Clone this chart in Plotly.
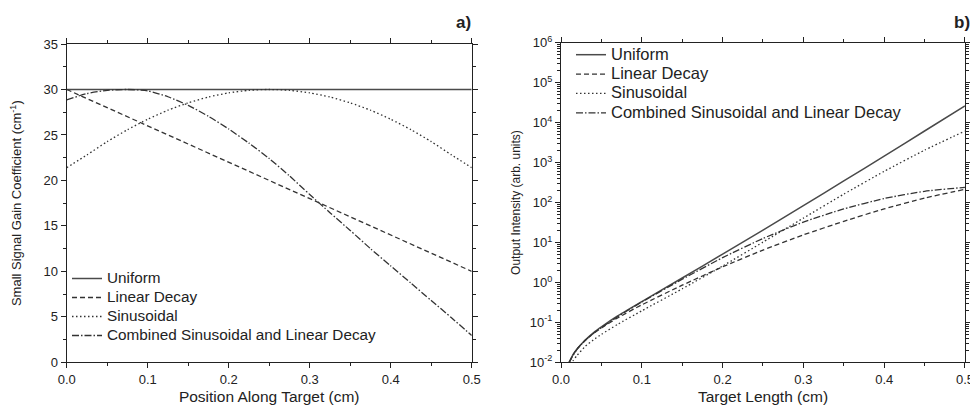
import plotly.graph_objects as go

# ---------------- data: panel a) gain profiles ----------------
pos_cm = [0.0, 0.025, 0.05, 0.075, 0.1, 0.125, 0.15, 0.175, 0.2, 0.225, 0.25,
          0.275, 0.3, 0.325, 0.35, 0.375, 0.4, 0.425, 0.45, 0.475, 0.5]
uniform_pos = [0.0, 0.5]
uniform_gain = [30.0, 30.0]
linear_pos = [0.0, 0.5]
linear_gain = [30.0, 10.0]
sinus_gain = [21.4, 22.81, 24.27, 25.58, 26.73, 27.72, 28.53, 29.17, 29.63, 29.91, 30.0,
              29.91, 29.63, 29.17, 28.53, 27.72, 26.73, 25.58, 24.27, 22.81, 21.4]
combined_gain = [28.85, 29.55, 29.9, 30.0, 29.85, 29.2, 28.25, 27.05, 25.65, 24.1, 22.4,
                 20.5, 18.45, 16.45, 14.5, 12.5, 10.6, 8.7, 6.8, 4.9, 2.95]

# ---------------- data: panel b) output intensity ----------------
length_cm = [0.01, 0.015, 0.02, 0.03, 0.04, 0.05, 0.07, 0.1, 0.15, 0.2, 0.25,
             0.3, 0.35, 0.4, 0.45, 0.5]
uniform_int = [0.0100, 0.0158, 0.0219, 0.0363, 0.0550, 0.0776, 0.145, 0.331, 1.29, 5.13,
               20.4, 83.2, 347, 1445, 6166, 26300]
linear_int = [0.0100, 0.0155, 0.0219, 0.0355, 0.0525, 0.0724, 0.129, 0.275, 0.851, 2.45,
              6.46, 15.5, 33.9, 69.2, 129, 214]
sinus_int = [0.00708, 0.0110, 0.0151, 0.0251, 0.0363, 0.0501, 0.0891, 0.195, 0.692, 2.57,
             10.2, 40.7, 162, 603, 2042, 6166]
combined_int = [0.00977, 0.0151, 0.0214, 0.0355, 0.0525, 0.0741, 0.138, 0.324, 1.20, 4.17,
                12.6, 32.4, 69.2, 126, 191, 240]

names = ["Uniform", "Linear Decay", "Sinusoidal", "Combined Sinusoidal and Linear Decay"]
log_ticks = [1e-2, 1e-1, 1e0, 1e1, 1e2, 1e3, 1e4, 1e5, 1e6]
log_ticktext = ["10<sup>-2</sup>", "10<sup>-1</sup>", "10<sup>0</sup>", "10<sup>1</sup>",
                "10<sup>2</sup>", "10<sup>3</sup>", "10<sup>4</sup>", "10<sup>5</sup>",
                "10<sup>6</sup>"]

FONT = "Liberation Sans, Arial, sans-serif"
INK = "#222222"
dashes = ["solid", "5px,3px", "1.5px,2.5px", "7px,2px,1.5px,2px"]
colors = ["#4a4a4a", "#333333", "#333333", "#333333"]
widths = [1.5, 1.3, 1.3, 1.3]


def sized(text, px):
    return '<span style="font-size:%spx">%s</span>' % (px, text)


fig = go.Figure()

left_sets = [(uniform_pos, uniform_gain), (linear_pos, linear_gain),
             (pos_cm, sinus_gain), (pos_cm, combined_gain)]
for i, (xs, ys) in enumerate(left_sets):
    fig.add_trace(go.Scatter(x=xs, y=ys, mode="lines", name=sized(names[i], 15.3),
                             line=dict(color=colors[i], width=widths[i], dash=dashes[i],
                                       shape="spline", smoothing=0.6),
                             xaxis="x", yaxis="y", legend="legend"))

right_sets = [uniform_int, linear_int, sinus_int, combined_int]
for i, ys in enumerate(right_sets):
    fig.add_trace(go.Scatter(x=length_cm, y=ys, mode="lines", name=sized(names[i], 16.5),
                             line=dict(color=colors[i], width=widths[i], dash=dashes[i],
                                       shape="spline", smoothing=0.5),
                             xaxis="x2", yaxis="y2", legend="legend2"))

axis_common = dict(showline=True, linecolor=INK, linewidth=1.3, mirror="ticks",
                   ticks="outside", ticklen=5, tickwidth=1.2, tickcolor=INK,
                   showgrid=False, zeroline=False, automargin=False,
                   ticklabeloverflow="allow",
                   tickfont=dict(family=FONT, size=13, color=INK))

minor_log = [m * 10.0 ** e for e in range(-2, 6) for m in range(2, 10)]

fig.update_layout(
    width=970, height=406,
    margin=dict(l=0, r=0, t=0, b=0, autoexpand=False),
    paper_bgcolor="white", plot_bgcolor="white",
    font=dict(family=FONT, color=INK),
    xaxis=dict(domain=[0.0688, 0.4863], range=[0, 0.5], anchor="y", dtick=0.1,
               tickformat=".1f",
               minor=dict(dtick=0.05, ticks="outside", ticklen=3, tickcolor=INK),
               title=dict(text="Position Along Target (cm)", font=dict(size=15.5), standoff=5),
               **axis_common),
    yaxis=dict(domain=[0.1076, 0.8916], range=[0, 35], anchor="x", dtick=5,
               minor=dict(dtick=2.5, ticks="outside", ticklen=3, tickcolor=INK),
               title=dict(text="Small Signal Gain Coefficient (cm<sup>-1</sup>)",
                          font=dict(size=13), standoff=18),
               **axis_common),
    xaxis2=dict(domain=[0.5784, 0.9948], range=[0, 0.5], anchor="y2", dtick=0.1,
                tickformat=".1f",
                minor=dict(dtick=0.05, ticks="outside", ticklen=3, tickcolor=INK),
                title=dict(text="Target Length (cm)", font=dict(size=15.5), standoff=5),
                **axis_common),
    yaxis2=dict(domain=[0.1076, 0.8948], type="log", range=[-2, 6], anchor="x2",
                tickvals=log_ticks, ticktext=log_ticktext,
                minor=dict(tickvals=minor_log, ticks="outside", ticklen=3, tickcolor=INK),
                title=dict(text="Output Intensity (arb. units)", font=dict(size=12), standoff=6),
                **axis_common),
    legend=dict(x=67 / 970, y=1 - 264 / 406, xanchor="left", yanchor="top",
                bgcolor="rgba(0,0,0,0)", font=dict(family=FONT, size=12, color=INK),
                tracegroupgap=0),
    legend2=dict(x=571 / 970, y=1 - 40 / 406, xanchor="left", yanchor="top",
                 bgcolor="rgba(0,0,0,0)", font=dict(family=FONT, size=12.6, color=INK),
                 tracegroupgap=0),
    annotations=[
        dict(text="<b>a)</b>", x=463 / 970, y=1 - 22 / 406, xref="paper", yref="paper",
             xanchor="center", yanchor="middle",
             showarrow=False, font=dict(family=FONT, size=17, color=INK)),
        dict(text="<b>b)</b>", x=962 / 970, y=1 - 22 / 406, xref="paper", yref="paper",
             xanchor="center", yanchor="middle",
             showarrow=False, font=dict(family=FONT, size=17, color=INK)),
    ],
)

fig.write_html("out.html", config={"displayModeBar": False},
               post_script="document.body.style.margin='0px';")
